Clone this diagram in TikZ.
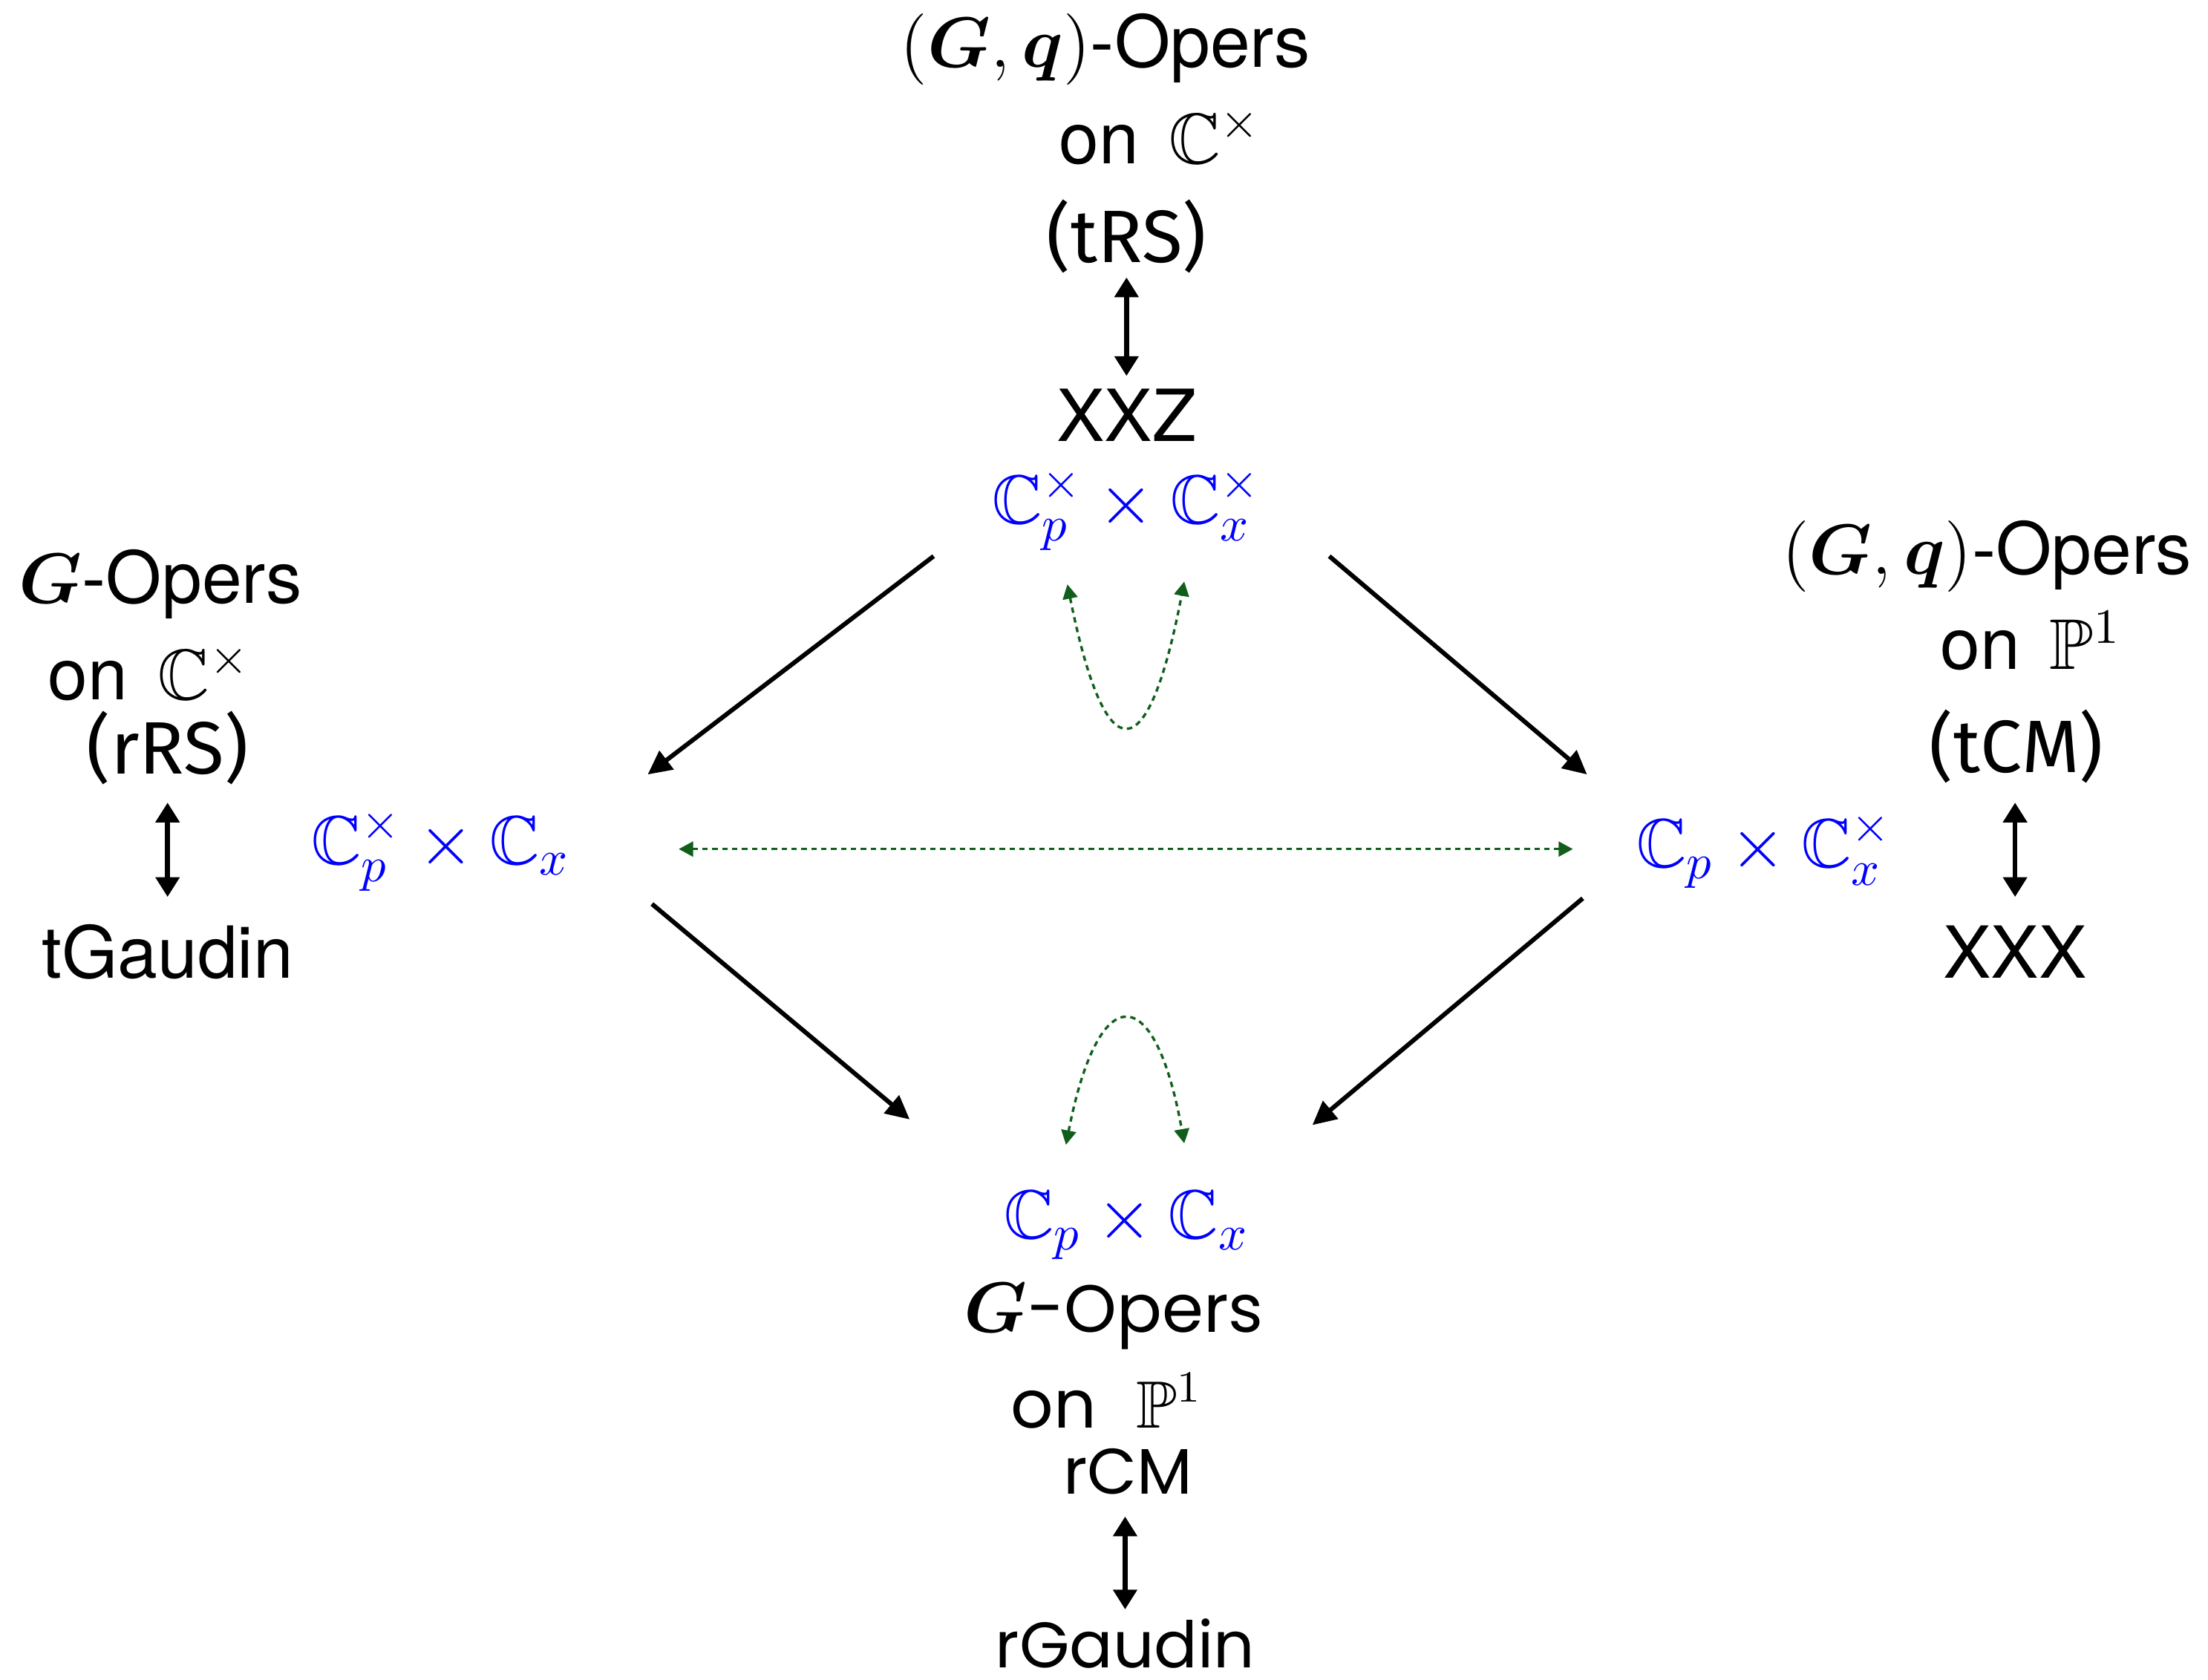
\documentclass[tikz,border=0pt]{standalone}
\usepackage{amsmath,amssymb,bm}
\usepackage[no-math]{fontspec}
\newfontfamily\helv{TeX Gyre Heros}
\newfontfamily\chalk{Fira Sans}
\newfontfamily\geo{Poppins}
\usetikzlibrary{arrows.meta, calc}
\definecolor{dashgreen}{RGB}{17,94,28}

\begin{document}
\begin{tikzpicture}[
    x=0.01cm, y=-0.01cm,
    every node/.style={inner sep=0pt},
    opers/.style={
        font=\helv\fontsize{14.5}{17}\selectfont
    },
    ropers/.style={
        font=\geo\fontsize{13.5}{16}\selectfont
    },
    sys/.style={
        font=\chalk\fontsize{15}{17}\selectfont
    },
    rsys/.style={
        font=\geo\fontsize{13}{16}\selectfont
    },
    field/.style={
        text=blue,
        font=\fontsize{14}{17}\selectfont
    },
    arrow/.style={
        -{Triangle[length=4.8pt,width=4.6pt]},
        line width=0.9pt
    },
    dual/.style={
        {Triangle[length=4pt,width=4.7pt]}-{Triangle[length=4pt,width=4.7pt]},
        line width=1pt
    },
    flip/.style={
        {Triangle[length=2.9pt,width=3pt]}-{Triangle[length=2.9pt,width=3pt]},
        draw=dashgreen,
        line width=0.5pt,
        dash pattern=on 1.1pt off 0.9pt
    }
]
\path[use as bounding box] (0,0) rectangle (1568,1193);

% top
\node[opers] (gqT) at (785,35) {$(\bm{G},\bm{q})$-Opers};
\node[opers] (onT) at (824,97) {on\hspace{6pt}$\mathbb{C}^\times$};
\node[sys] (trs) at (800,168) {(tRS)};
\node[opers] (xxz) at (800,295) {XXZ};
\node[field] (hubT) at (800,362) {$\mathbb{C}_p^\times\times\mathbb{C}_x^\times$};

% left
\node[opers] (gL) at (114,415) {$\bm{G}$-Opers};
\node[opers] (onL) at (106,478) {on\hspace{6pt}$\mathbb{C}^\times$};
\node[sys] (rrs) at (119,531) {(rRS)};
\node[opers] (tgaudin) at (119,676) {tGaudin};
\node[field] (hubL) at (313,604) {$\mathbb{C}_p^\times\times\mathbb{C}_x$};

% right
\node[opers] (gqR) at (1411,395) {$(\bm{G},\bm{q})$-Opers};
\node[opers] (onR) at (1442,455) {on\hspace{6pt}$\mathbb{P}^1$};
\node[sys] (tcm) at (1432,530) {(tCM)};
\node[opers] (xxx) at (1431,676) {XXX};
\node[field] (hubR) at (1253,604) {$\mathbb{C}_p\times\mathbb{C}_x^\times$};

% bottom
\node[field] (hubB) at (800,870) {$\mathbb{C}_p\times\mathbb{C}_x$};
\node[ropers] (gB) at (791,935) {$\bm{G}$-Opers};
\node[ropers] (onB) at (786,995) {on\hspace{8pt}$\mathbb{P}^1$};
\node[rsys] (rcm) at (801,1045) {rCM};
\node[rsys] (rgaudin) at (799,1167) {rGaudin};

% maps
\draw[arrow] ($(hubT)+(-137,33)$) -- ($(hubL)+(147,-54)$);
\draw[arrow] ($(hubT)+(144,33)$) -- ($(hubR)+(-126,-54)$);
\draw[arrow] ($(hubL)+(150,38)$) -- ($(hubB)+(-154,-75)$);
\draw[arrow] ($(hubR)+(-129,34)$) -- ($(hubB)+(132,-71)$);

% dualities
\draw[dual] ($(trs)+(0,29)$) -- ($(xxz)+(0,-28)$);
\draw[dual] ($(rrs)+(0,39)$) -- ($(tgaudin)+(0,-39)$);
\draw[dual] ($(tcm)+(-1,40)$) -- ($(xxx)+(0,-39)$);
\draw[dual] ($(rcm)+(-2,32)$) -- ($(rgaudin)+(0,-24)$);

% green swaps
\draw[flip] ($(hubL)+(169,-1)$) -- ($(hubR)+(-136,-1)$);
\draw[flip] ($(hubT)+(-42,53)$) .. controls +(27,134) and +(-26,136) .. ($(hubT)+(41,51)$);
\draw[flip] ($(hubB)+(-43,-57)$) .. controls +(23,-118) and +(-21,-117) .. ($(hubB)+(41,-58)$);

\end{tikzpicture}
\end{document}
